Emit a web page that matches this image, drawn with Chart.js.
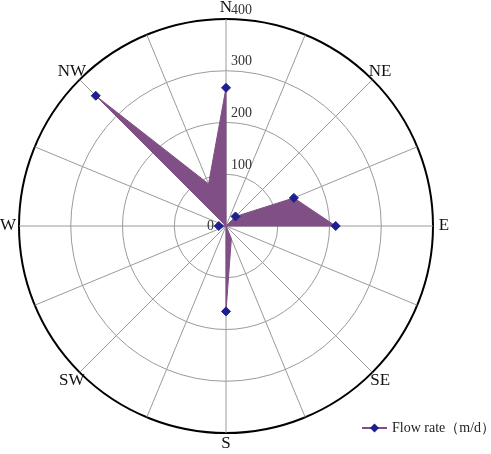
<!DOCTYPE html>
<html>
<head>
<meta charset="utf-8">
<script src="https://cdn.jsdelivr.net/npm/chart.js@4.4.1/dist/chart.umd.min.js"></script>
<style>
  html, body { margin: 0; padding: 0; background: #fff; }
</style>
</head>
<body>
<canvas id="rose-chart" width="491" height="454"></canvas>
<script>
// 16 compass directions, only the main 8 are labelled
const directions = ['N', 'NNE', 'NE', 'ENE', 'E', 'ESE', 'SE', 'SSE', 'S', 'SSW', 'SW', 'WSW', 'W', 'WNW', 'NW', 'NNW'];
const directionLabels = ['N', '', 'NE', '', 'E', '', 'SE', '', 'S', '', 'SW', '', 'W', '', 'NW', ''];
const flowRate = [267, 0, 26, 142, 212, 0, 0, 27, 165, 0, 0, 0, 14, 0, 356, 88];
const tickValues = [0, 100, 200, 300, 400];
const seriesName = 'Flow rate（m/d）';

const PURPLE = 'rgb(127, 79, 133)';
const NAVY = '#1d1f8f';
const SERIF = '"Liberation Serif", "Times New Roman", serif';

// direction labels, tick labels and legend
const annotate = {
    id: 'annotate',
    afterDraw(chart) {
        const r = chart.scales.r;
        const ctx = chart.ctx;
        ctx.save();

        ctx.font = '17px ' + SERIF;
        ctx.fillStyle = '#111';
        ctx.textAlign = 'center';
        ctx.textBaseline = 'middle';
        directionLabels.forEach((lab, i) => {
            if (!lab) return;
            const p = r.getPointPosition(i, r.drawingArea + 11);
            ctx.fillText(lab, p.x, p.y);
        });

        ctx.font = '14px ' + SERIF;
        ctx.fillStyle = '#333';
        tickValues.forEach(v => {
            if (v === 0) {
                ctx.textAlign = 'right';
                ctx.fillText(String(v), r.xCenter - 12, r.yCenter);
            } else {
                ctx.textAlign = 'left';
                ctx.fillText(String(v), r.xCenter + 5, r.yCenter - r.getDistanceFromCenterForValue(v) - 9);
            }
        });

        // legend
        const lx = 362, ly = 428;
        ctx.strokeStyle = PURPLE;
        ctx.lineWidth = 2;
        ctx.beginPath();
        ctx.moveTo(lx, ly);
        ctx.lineTo(lx + 25, ly);
        ctx.stroke();
        ctx.fillStyle = NAVY;
        ctx.beginPath();
        ctx.moveTo(lx + 12.5, ly - 4.5);
        ctx.lineTo(lx + 17, ly);
        ctx.lineTo(lx + 12.5, ly + 4.5);
        ctx.lineTo(lx + 8, ly);
        ctx.closePath();
        ctx.fill();
        ctx.fillStyle = '#222';
        ctx.textAlign = 'left';
        ctx.font = '14px ' + SERIF;
        ctx.fillText(seriesName, lx + 30, ly);

        ctx.restore();
    }
};

const ctx = document.getElementById('rose-chart').getContext('2d');
new Chart(ctx, {
    type: 'radar',
    data: {
        labels: directions,
        datasets: [{
            label: seriesName,
            data: flowRate,
            fill: 'origin',
            backgroundColor: PURPLE,
            borderColor: PURPLE,
            borderWidth: 1,
            pointStyle: 'rectRot',
            pointRadius: c => (c.raw === 0 || c.dataIndex === 7 || c.dataIndex === 15) ? 0 : 4.5,
            pointBackgroundColor: NAVY,
            pointBorderColor: NAVY,
            pointBorderWidth: 1
        }]
    },
    options: {
        responsive: false,
        animation: false,
        devicePixelRatio: 1,
        layout: { padding: { top: 19, bottom: 20, left: 19, right: 57 } },
        plugins: {
            legend: { display: false },
            tooltip: { enabled: false }
        },
        scales: {
            r: {
                min: 0,
                max: 400,
                ticks: { stepSize: 100, display: false },
                grid: {
                    circular: true,
                    color: c => c.tick && c.tick.value === 400 ? '#000' : '#9a9a9a',
                    lineWidth: c => c.tick && c.tick.value === 400 ? 2 : 1
                },
                angleLines: { display: true, color: '#9a9a9a', lineWidth: 1 },
                pointLabels: { display: false }
            }
        }
    },
    plugins: [annotate]
});
</script>
</body>
</html>
